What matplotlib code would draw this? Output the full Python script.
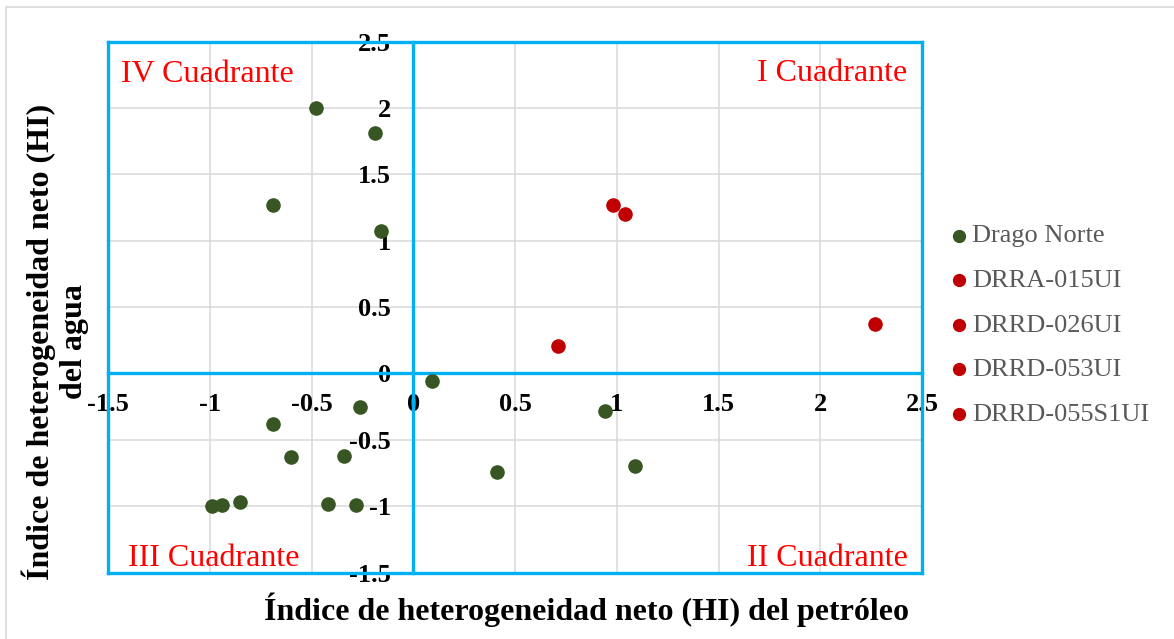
import matplotlib.pyplot as plt
from matplotlib.patches import Rectangle

plt.rcParams['font.family'] = ['Liberation Serif', 'DejaVu Serif']

# Drago Norte points (HI petróleo, HI agua)
drago_x = [-0.48, -0.19, -0.69, -0.16, 0.09, -0.26, -0.69, -0.60, -0.34,
           -0.99, -0.94, -0.85, -0.42, -0.28, 0.94, 0.41, 1.09]
drago_y = [2.00, 1.81, 1.27, 1.07, -0.06, -0.25, -0.38, -0.63, -0.62,
           -1.00, -0.99, -0.97, -0.98, -0.99, -0.28, -0.74, -0.70]

wells = ['DRRA-015UI', 'DRRD-026UI', 'DRRD-053UI', 'DRRD-055S1UI']
wells_x = [0.98, 1.04, 0.71, 2.27]
wells_y = [1.27, 1.20, 0.21, 0.37]

ticks = [-1.5, -1, -0.5, 0, 0.5, 1, 1.5, 2, 2.5]
tick_labels = ['-1.5', '-1', '-0.5', '0', '0.5', '1', '1.5', '2', '2.5']

blue = '#00B0F0'
green = '#375623'
red = '#C00000'

fig = plt.figure(figsize=(11.74, 6.39), dpi=100)
ax = fig.add_axes([0.092, 0.104, 0.6935, 0.8307])

# light border of the chart area (runs off the right and bottom edges)
fig.patches.append(Rectangle((0.005, -0.05), 1.0, 1.039, transform=fig.transFigure,
                             fill=False, edgecolor='#D9D9D9', linewidth=1.2))

ax.scatter(drago_x, drago_y, s=90, color=green, label='Drago Norte', zorder=4)
for name, x, y in zip(wells, wells_x, wells_y):
    ax.scatter([x], [y], s=90, color=red, label=name, zorder=4)

ax.set_xlim(-1.5, 2.5)
ax.set_ylim(-1.5, 2.5)
ax.set_xticks(ticks)
ax.set_xticklabels(tick_labels)
ax.set_yticks(ticks)
ax.set_yticklabels(tick_labels)
ax.grid(True, color='#D9D9D9', linewidth=1.1, zorder=0)
ax.set_axisbelow(True)

# axes cross at zero, outer box in blue
ax.spines['left'].set_position(('data', 0))
ax.spines['bottom'].set_position(('data', 0))
for sp in ax.spines.values():
    sp.set_color(blue)
    sp.set_linewidth(2.4)
    sp.set_zorder(3)
ax.axvline(-1.5, color=blue, linewidth=2.4, clip_on=False, zorder=3)
ax.axhline(-1.5, color=blue, linewidth=2.4, clip_on=False, zorder=3)

ax.tick_params(axis='both', length=0, labelsize=19)
ax.tick_params(axis='y', pad=16)
ax.tick_params(axis='x', pad=14)
for lbl in ax.get_xticklabels() + ax.get_yticklabels():
    lbl.set_fontweight('bold')
    lbl.set_zorder(5)

qkw = dict(transform=ax.transAxes, color='red', fontsize=23)
ax.text(0.016, 0.938, 'IV Cuadrante', ha='left', va='center', **qkw)
ax.text(0.982, 0.940, 'I Cuadrante', ha='right', va='center', **qkw)
ax.text(0.025, 0.026, 'III Cuadrante', ha='left', va='center', **qkw)
ax.text(0.982, 0.026, 'II Cuadrante', ha='right', va='center', **qkw)

fig.text(0.4996, 0.045, 'Índice de heterogeneidad neto (HI) del petróleo',
         ha='center', va='center', fontsize=23, fontweight='bold')
fig.text(0.047, 0.465, 'Índice de heterogeneidad neto (HI)\ndel agua',
         ha='center', va='center', rotation=90, fontsize=23, fontweight='bold',
         linespacing=1.15)

leg = ax.legend(loc='center left', bbox_to_anchor=(1.0, 0.4665), frameon=False,
                fontsize=19, handletextpad=-0.5, labelspacing=0.8,
                markerscale=0.9, borderaxespad=0)
for t in leg.get_texts():
    t.set_color('#595959')

fig.savefig('out.png', dpi=100)
